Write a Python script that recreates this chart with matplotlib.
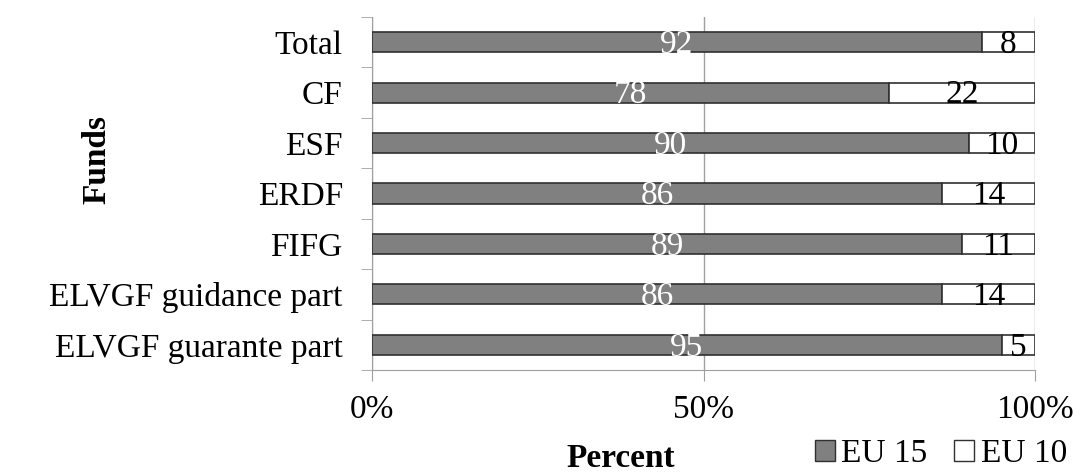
import matplotlib
matplotlib.use("Agg")
import matplotlib.pyplot as plt
from matplotlib.patches import Patch

categories = ["ELVGF guarante part", "ELVGF guidance part", "FIFG", "ERDF", "ESF", "CF", "Total"]
eu15 = [95, 86, 89, 86, 90, 78, 92]
eu10 = [5, 14, 11, 14, 10, 22, 8]
xticks = [0, 50, 100]
xticklabels = ["0%", "50%", "100%"]

plt.rcParams['font.family'] = ['Liberation Serif', 'DejaVu Serif']
W, H = 1082, 475
fig = plt.figure(figsize=(W/100, H/100), dpi=100)
ax = fig.add_axes([372/W, 1-370/H, (1035-372)/W, (370-17)/H])

gray = '#808080'
axcol = '#a0a0a0'
fs = 24
ypos = list(range(len(categories)))
ax.barh(ypos, eu15, height=0.4, color=gray, edgecolor='#303030', linewidth=1.2, zorder=3)
ax.barh(ypos, eu10, left=eu15, height=0.4, color='white', edgecolor='#303030', linewidth=1.2, zorder=3)
for y, a, b in zip(ypos, eu15, eu10):
    ax.text(a/2, y-0.05, str(a), ha='center', va='center', color='white', fontsize=fs, zorder=4)
    ax.text(a + b/2, y-0.05, str(b), ha='center', va='center', color='black', fontsize=fs, zorder=4)

ax.set_xlim(0, 100)
ax.set_ylim(-0.5, len(categories)-0.5)
ax.set_xticks(xticks)
ax.set_xticklabels(xticklabels, fontsize=fs)
ax.set_yticks(ypos)
ax.set_yticklabels(categories, fontsize=fs)
ax.set_yticks([i-0.5 for i in range(len(categories)+1)], minor=True)
ax.tick_params(axis='y', which='major', length=0, pad=21)
ax.tick_params(axis='y', which='minor', length=8, color=axcol, direction='out')
ax.tick_params(axis='x', which='major', length=8, color=axcol, direction='out', pad=10)
ax.grid(axis='x', color=axcol, linewidth=1, zorder=0)
for s in ['top', 'right']:
    ax.spines[s].set_visible(False)
for s in ['left', 'bottom']:
    ax.spines[s].set_color(axcol)

fig.text(97/W, 1-160/H, "Funds", rotation=90, ha='center', va='center', fontsize=fs, fontweight='bold')
fig.text(621/W, 1/H, "Percent", ha='center', va='bottom', fontsize=fs, fontweight='bold')

handles = [Patch(facecolor=gray, edgecolor='#303030', label='EU 15'),
           Patch(facecolor='white', edgecolor='#303030', label='EU 10')]
fig.legend(handles=handles, loc='center', bbox_to_anchor=(941/W, 1-454/H), ncol=2, frameon=False,
           fontsize=fs, handlelength=0.6, handleheight=0.6, handletextpad=0.2, columnspacing=0.8,
           borderpad=0, borderaxespad=0)

fig.savefig("out.png", dpi=100)
